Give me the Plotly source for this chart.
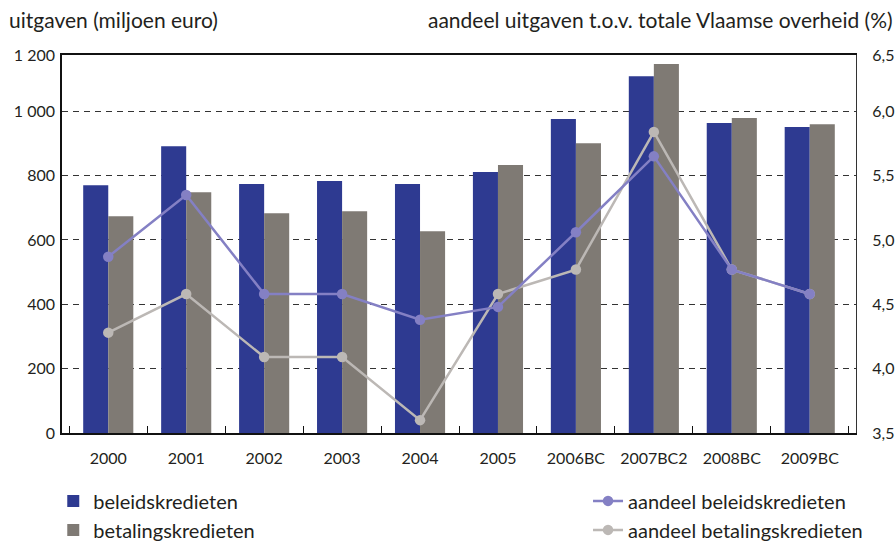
import plotly.graph_objects as go

categories = ["2000", "2001", "2002", "2003", "2004", "2005", "2006BC", "2007BC2", "2008BC", "2009BC"]
beleidskredieten = [770, 891, 774, 783, 774, 811, 976, 1109, 964, 951]
betalingskredieten = [674, 748, 683, 689, 627, 833, 901, 1147, 979, 960]
aandeel_beleid = [4.87, 5.35, 4.58, 4.58, 4.38, 4.48, 5.06, 5.65, 4.77, 4.58]
aandeel_betaling = [4.28, 4.58, 4.09, 4.09, 3.60, 4.58, 4.77, 5.84, 4.77, 4.58]

left_tickvals = [0, 200, 400, 600, 800, 1000, 1175]
left_ticktext = ["0", "200", "400", "600", "800", "1 000", "1 200"]
right_tickvals = [3.5, 4.0, 4.5, 5.0, 5.5, 6.0, 6.4375]
right_ticktext = ["3,5", "4,0", "4,5", "5,0", "5,5", "6,0", "6,5"]

FONT = "Lato"
TXT = "#231f20"
BLUE = "#2e3a91"
GREY = "#7f7a74"
LBLUE = "#8480c4"
LGREY = "#bcb8b5"

fig = go.Figure()
fig.add_trace(go.Bar(x=categories, y=beleidskredieten, name="beleidskredieten",
                     marker=dict(color=BLUE, line=dict(width=0)), legend="legend"))
fig.add_trace(go.Bar(x=categories, y=betalingskredieten, name="betalingskredieten",
                     marker=dict(color=GREY, line=dict(width=0)), legend="legend"))
fig.add_trace(go.Scatter(x=categories, y=aandeel_betaling, name="aandeel betalingskredieten",
                         mode="lines+markers", yaxis="y2",
                         line=dict(color=LGREY, width=2.5),
                         marker=dict(color=LGREY, size=10.5), legend="legend2"))
fig.add_trace(go.Scatter(x=categories, y=aandeel_beleid, name="aandeel beleidskredieten",
                         mode="lines+markers", yaxis="y2",
                         line=dict(color=LBLUE, width=2.5),
                         marker=dict(color=LBLUE, size=10.5), legend="legend2"))

fig.update_layout(
    width=895, height=542,
    margin=dict(l=62, r=39, t=55, b=109, autoexpand=False),
    paper_bgcolor="white", plot_bgcolor="white",
    font=dict(family=FONT, size=16, color=TXT),
    barmode="group", bargap=0.357, bargroupgap=0,
    xaxis=dict(
        type="category",
        showline=True, linecolor="#111", linewidth=1.5, mirror=True,
        ticks="inside", tickson="boundaries", ticklen=7, tickcolor="#111", tickwidth=1,
        tickfont=dict(size=16, family=FONT, color=TXT),
        ticklabelstandoff=10,
        showgrid=False,
    ),
    yaxis=dict(
        range=[0, 1175],
        tickvals=left_tickvals, ticktext=left_ticktext,
        showline=True, linecolor="#111", linewidth=1.5,
        showgrid=True, gridcolor="#333", gridwidth=1.2, griddash="6px,5px",
        zeroline=False, ticks="",
        tickfont=dict(size=16, family=FONT, color=TXT),
        ticklabelstandoff=2,
    ),
    yaxis2=dict(
        range=[3.5, 6.4375], overlaying="y", side="right",
        tickvals=right_tickvals, ticktext=right_ticktext,
        showline=True, linecolor="#333", linewidth=1.2,
        showgrid=False, zeroline=False, ticks="",
        tickfont=dict(size=16, family=FONT, color=TXT),
        ticklabelstandoff=12,
    ),
    legend=dict(
        x=-0.011, y=-0.128, xanchor="left", yanchor="top",
        orientation="v", traceorder="normal",
        font=dict(size=20, family=FONT, color=TXT),
        bgcolor="rgba(0,0,0,0)", itemwidth=30,
    ),
    legend2=dict(
        x=0.6625, y=-0.128, xanchor="left", yanchor="top",
        orientation="v", traceorder="reversed",
        font=dict(size=20, family=FONT, color=TXT),
        bgcolor="rgba(0,0,0,0)", itemwidth=30,
    ),
    annotations=[
        dict(text="uitgaven (miljoen euro)", xref="paper", yref="paper",
             x=-0.069, y=1.0926, xanchor="left", yanchor="middle", showarrow=False,
             font=dict(size=21, family=FONT, color=TXT)),
        dict(text="aandeel uitgaven t.o.v. totale Vlaamse overheid (%)", xref="paper", yref="paper",
             x=1.049, y=1.0926, xanchor="right", yanchor="middle", showarrow=False,
             font=dict(size=21, family=FONT, color=TXT)),
    ],
)

fig.write_html("out.html", config={"displayModeBar": False},
               post_script="document.body.style.margin='0';document.body.style.padding='0';")
